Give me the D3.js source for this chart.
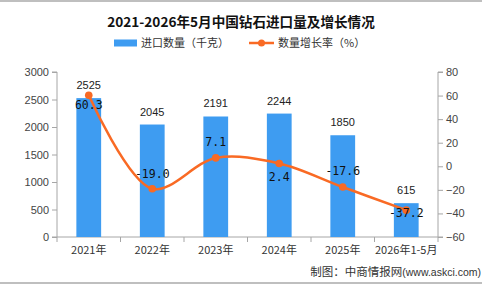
<!DOCTYPE html>
<html><head><meta charset="utf-8">
<script src="https://cdn.jsdelivr.net/npm/d3@7/dist/d3.min.js"></script>
<style>body{margin:0;background:#fff}svg{display:block}</style>
</head><body>
<svg id="c" width="482" height="284"></svg>
<script>
const categories = ["2021年","2022年","2023年","2024年","2025年","2026年1-5月"];
const importQty = [2525, 2045, 2191, 2244, 1850, 615];
const growthRate = [60.3, -19.0, 7.1, 2.4, -17.6, -37.2];
const leftTicks = [0,500,1000,1500,2000,2500,3000];
const rightTicks = [-60,-40,-20,0,20,40,60,80];
const title = "2021-2026年5月中国钻石进口量及增长情况";
const legendLabels = ["进口数量（千克）","数量增长率（%）"];

const svg = d3.select("#c");
const blue = "#3E9CF1", orange = "#F96A24", axisCol = "#A6A6A6", txt = "#333";
const L = 57, R = 438, T = 72, B = 237;
const x = d3.scaleBand().domain(categories).range([L, R]).paddingInner(0.61).paddingOuter(0.305);
const xc = d => x(d) + x.bandwidth()/2;
const yL = d3.scaleLinear().domain([0,3000]).range([B,T]);
const yR = d3.scaleLinear().domain([-60,80]).range([B,T]);

svg.append("line").attr("x1",0).attr("x2",482).attr("y1",1).attr("y2",1).attr("stroke","#aaa").attr("stroke-width",1.5);
svg.append("line").attr("x1",0).attr("x2",482).attr("y1",283).attr("y2",283).attr("stroke","#aaa").attr("stroke-width",1.5);

svg.append("text").attr("x",241).attr("y",27).attr("text-anchor","middle")
  .attr("font-family","'Noto Sans CJK SC'").attr("font-weight","bold").attr("font-size",13.6).attr("fill","#111").text(title);

// legend
const lg = svg.append("g").attr("font-family","'Noto Sans CJK SC'").attr("font-size",11).attr("fill",txt);
lg.append("rect").attr("x",114).attr("y",39.5).attr("width",23).attr("height",7).attr("fill",blue);
lg.append("text").attr("x",141).attr("y",47).text(legendLabels[0]);
lg.append("line").attr("x1",249).attr("x2",274).attr("y1",43).attr("y2",43).attr("stroke",orange).attr("stroke-width",2.5);
lg.append("circle").attr("cx",261.5).attr("cy",43).attr("r",3.5).attr("fill",orange);
lg.append("text").attr("x",278).attr("y",47).text(legendLabels[1]);

// axes
const axL = d3.axisLeft(yL).tickValues(leftTicks).tickFormat(d3.format("d")).tickSize(5).tickPadding(3);
const axR = d3.axisRight(yR).tickValues(rightTicks).tickFormat(d3.format("d")).tickSize(5).tickPadding(3);
function styleAxis(g){
  g.select(".domain").attr("stroke",axisCol);
  g.selectAll(".tick line").attr("stroke",axisCol);
  g.selectAll(".tick text").attr("fill","#444").attr("font-size",11).attr("font-family","'Liberation Sans',Arial");
}
svg.append("g").attr("transform",`translate(${L},0)`).call(axL).call(g=>g.select(".domain").attr("d",`M-5,${T}H0V${B}H-5`)).call(styleAxis);
svg.append("g").attr("transform",`translate(${R},0)`).call(axR).call(g=>g.select(".domain").attr("d",`M5,${T}H0V${B}H5`)).call(styleAxis);

// x axis
const xg = svg.append("g");
xg.append("line").attr("x1",L).attr("x2",R).attr("y1",B).attr("y2",B).attr("stroke",axisCol);
d3.range(categories.length+1).forEach(i=>{
  const xx = L + i*(R-L)/categories.length;
  xg.append("line").attr("x1",xx).attr("x2",xx).attr("y1",B).attr("y2",B+5).attr("stroke",axisCol);
});
xg.selectAll("text.cat").data(categories).join("text").attr("class","cat")
  .attr("x",d=>xc(d)).attr("y",254).attr("text-anchor","middle")
  .attr("font-family","'Noto Sans CJK SC'").attr("font-size",11).attr("fill",txt).text(d=>d);

// bars
svg.selectAll("rect.bar").data(importQty).join("rect").attr("class","bar")
  .attr("x",(d,i)=>x(categories[i])).attr("width",x.bandwidth())
  .attr("y",d=>yL(d)).attr("height",d=>B-yL(d)).attr("fill",blue);
svg.selectAll("text.bl").data(importQty).join("text").attr("class","bl")
  .attr("x",(d,i)=>xc(categories[i])).attr("y",d=>yL(d)-9).attr("text-anchor","middle")
  .attr("font-family","'Liberation Sans',Arial").attr("font-size",11).attr("fill","#222").text(d=>d);

// line
const pts = growthRate.map((d,i)=>[xc(categories[i]), yR(d)]);
svg.append("path").attr("d", d3.line().curve(d3.curveCatmullRom.alpha(0.5))(pts))
  .attr("fill","none").attr("stroke",orange).attr("stroke-width",2.5);
svg.selectAll("circle.pt").data(pts).join("circle").attr("class","pt")
  .attr("cx",d=>d[0]).attr("cy",d=>d[1]).attr("r",3.8).attr("fill",orange);
const lblDy = [14, -11, -12, 18, -12, 7];
svg.selectAll("text.ll").data(growthRate).join("text").attr("class","ll")
  .attr("x",(d,i)=>pts[i][0]).attr("y",(d,i)=>pts[i][1]+lblDy[i]).attr("text-anchor","middle")
  .attr("font-family","'DejaVu Sans Mono',monospace").attr("font-size",11.5).attr("fill","#111")
  .text(d=>d.toFixed(1));

// source
const src = svg.append("text").attr("x",481).attr("y",276).attr("text-anchor","end").attr("fill",txt);
src.append("tspan").attr("font-family","'Noto Sans CJK SC'").attr("font-size",11.5).text("制图：中商情报网");
src.append("tspan").attr("font-family","'Liberation Sans',Arial").attr("font-size",10.5).text("(www.askci.com)");
</script>
</body></html>
